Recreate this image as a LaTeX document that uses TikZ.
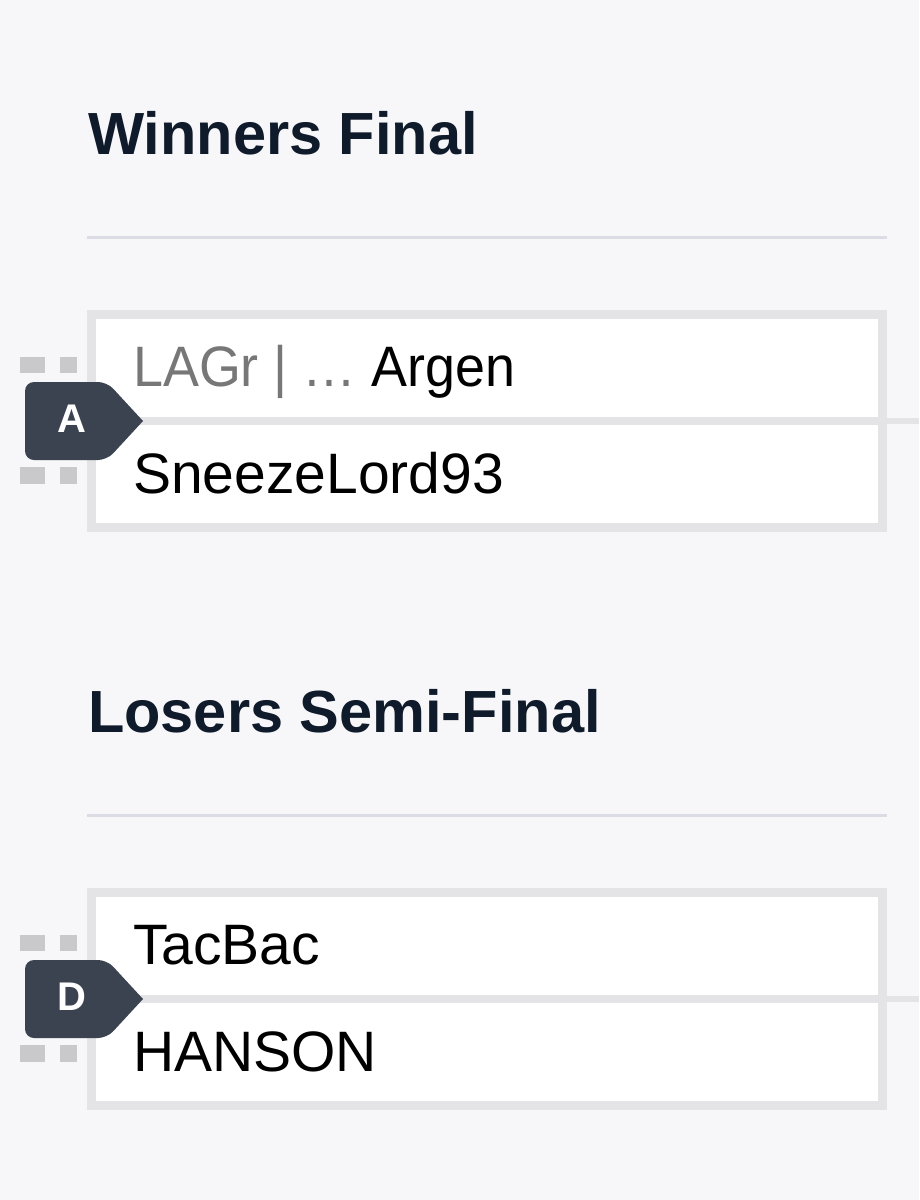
\documentclass[tikz,border=0pt]{standalone}
\usepackage{fontspec}
\setmainfont{Liberation Sans}
\definecolor{bg}{HTML}{F7F7FA}
\definecolor{boxline}{HTML}{E4E4E6}
\definecolor{sepline}{HTML}{DCDCE4}
\definecolor{tagfill}{HTML}{3B4350}
\definecolor{headcol}{HTML}{0F1A2A}
\definecolor{dimtext}{HTML}{777777}
\definecolor{dotcol}{HTML}{C9C9CB}
\begin{document}
\begin{tikzpicture}[x=1pt,y=-1pt,
  heading/.style={anchor=base west,inner sep=0pt,font=\fontsize{59.5}{70}\selectfont\bfseries,text=headcol},
  rowtext/.style={anchor=base west,inner sep=0pt,font=\fontsize{57}{66}\selectfont,text=black},
  matchbox/.style={draw=boxline,line width=9pt,fill=white},
  divider/.style={draw=boxline,line width=8pt},
  sep/.style={draw=sepline,line width=3pt},
  tag/.style={fill=tagfill,rounded corners=9pt},
  taglabel/.style={inner sep=0pt,font=\fontsize{40}{46}\selectfont\bfseries,text=white},
  dot/.style={fill=dotcol},
  link/.style={draw=boxline,line width=6pt}
]
\fill[bg] (0,0) rectangle (919,1200);
\useasboundingbox (0,0) rectangle (919,1200);

% ---------- Winners Final ----------
\node[heading] (h1) at (88,154) {Winners Final};
\draw[sep] (87,237) -- (887,237);
\coordinate (c1) at (919,421);
\draw[link] (882,421) -- (c1);
\fill[dot] (20,357) rectangle (45,373);
\fill[dot] (60,357) rectangle (77,373);
\fill[dot] (20,467) rectangle (45,484);
\fill[dot] (60,467) rectangle (77,484);
\node[matchbox,minimum width=791pt,minimum height=213pt,inner sep=0pt] (m1) at (487,421) {};
\draw[divider] (m1.west |- 0,421) -- (m1.east |- 0,421);
\node[rowtext] (p1) at (133,386) {\scalebox{0.945}[1]{\textcolor{dimtext}{LAGr | …} Argen}};
\node[rowtext] (p2) at (133,493) {SneezeLord93};
\path[tag] (25,382) -- (107,382) [sharp corners] -- (143,421) [rounded corners=9pt] -- (107,460) -- (25,460) -- cycle;
\node[taglabel] (ta) at (72,419) {A};

% ---------- Losers Semi-Final ----------
\node[heading] (h2) at (88,732) {Losers Semi-Final};
\draw[sep] (87,815) -- (887,815);
\coordinate (c2) at (919,999);
\draw[link] (882,999) -- (c2);
\fill[dot] (20,935) rectangle (45,951);
\fill[dot] (60,935) rectangle (77,951);
\fill[dot] (20,1045) rectangle (45,1062);
\fill[dot] (60,1045) rectangle (77,1062);
\node[matchbox,minimum width=791pt,minimum height=213pt,inner sep=0pt] (m2) at (487,999) {};
\draw[divider] (m2.west |- 0,999) -- (m2.east |- 0,999);
\node[rowtext] (p3) at (133,964) {TacBac};
\node[rowtext] (p4) at (133,1071) {HANSON};
\path[tag] (25,960) -- (107,960) [sharp corners] -- (143,999) [rounded corners=9pt] -- (107,1038) -- (25,1038) -- cycle;
\node[taglabel] (td) at (72,997) {D};
\end{tikzpicture}
\end{document}
